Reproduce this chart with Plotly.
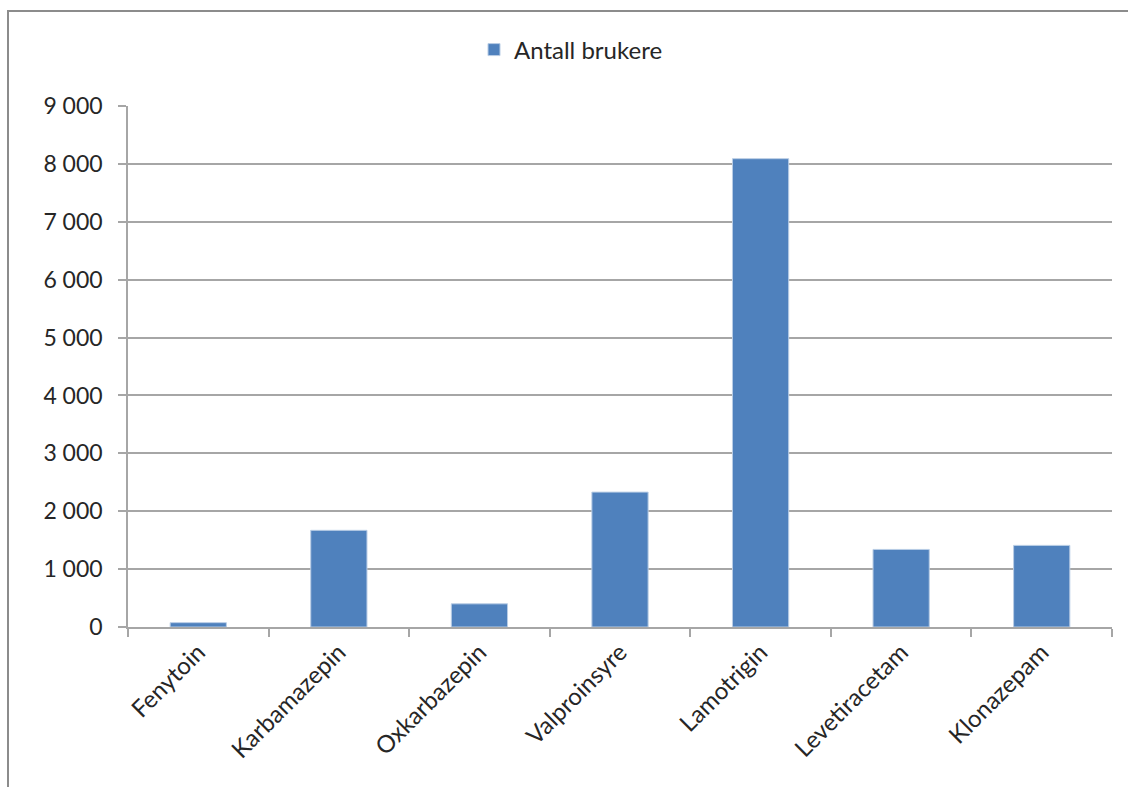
import plotly.graph_objects as go

categories = ["Fenytoin", "Karbamazepin", "Oxkarbazepin", "Valproinsyre",
              "Lamotrigin", "Levetiracetam", "Klonazepam"]
antall_brukere = [75, 1670, 400, 2330, 8090, 1340, 1410]
series_name = "Antall brukere"
y_ticks = [0, 1000, 2000, 3000, 4000, 5000, 6000, 7000, 8000, 9000]

W, H = 1128, 787
L, R, T, B = 128, 16, 106, 160
pw, ph = W - L - R, H - T - B

def px_x(p):
    return (p - L) / pw

def px_y(p):
    return (H - B - p) / ph

FONT = "Lato"
GRAY = "#a6a6a6"
TXT = "#262626"

fig = go.Figure(go.Bar(
    x=categories, y=antall_brukere, name=series_name,
    marker=dict(color="#4f81bd", line=dict(color="#b9cde5", width=1)),
    width=0.4, showlegend=True,
))

fig.update_layout(
    width=W, height=H,
    margin=dict(l=L, r=R, t=T, b=B, pad=0),
    paper_bgcolor="white", plot_bgcolor="white",
    separators=", ",
    font=dict(family=FONT, size=23, color=TXT),
    showlegend=True,
    legend=dict(orientation="h", x=px_x(474), xanchor="left",
                y=px_y(50), yanchor="middle",
                font=dict(family=FONT, size=24, color=TXT),
                bgcolor="rgba(0,0,0,0)"),
    bargap=0.6,
)

fig.update_yaxes(
    range=[0, 9000], tickvals=y_ticks, separatethousands=True,
    tickformat=",d",
    showgrid=True, gridcolor=GRAY, gridwidth=1.5,
    showline=True, linecolor=GRAY, linewidth=1.5,
    ticks="outside", ticklen=8, tickcolor=GRAY, tickwidth=1.5,
    ticklabelstandoff=11,
    zeroline=False, tickfont=dict(family=FONT, size=23, color=TXT),
)
fig.update_xaxes(
    tickangle=-45, showline=True, linecolor=GRAY, linewidth=1.5,
    ticks="outside", tickson="boundaries", ticklen=8, tickcolor=GRAY, tickwidth=1.5,
    showgrid=False, tickfont=dict(family=FONT, size=24, color=TXT),
)

fig.add_shape(type="rect", xref="paper", yref="paper",
              x0=px_x(8), x1=px_x(1140), y0=px_y(800), y1=px_y(11),
              line=dict(color="#8c8c8c", width=2), fillcolor="rgba(0,0,0,0)",
              layer="below")

fig.write_html("out.html")
